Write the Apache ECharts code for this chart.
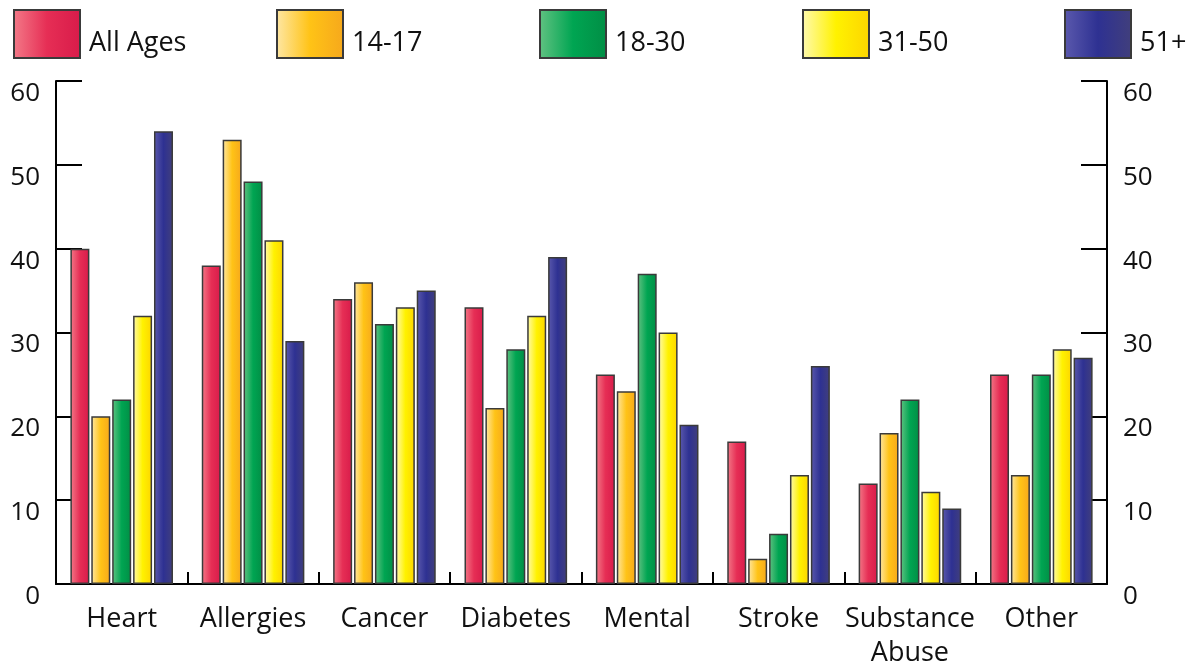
<!DOCTYPE html>
<html>
<head>
<meta charset="utf-8">
<script src="https://cdn.jsdelivr.net/npm/echarts@6/dist/echarts.min.js"></script>
<style>
  html, body { margin: 0; padding: 0; background: #ffffff; }
  #chart { width: 1199px; height: 667px; }
</style>
</head>
<body>
<div id="chart"></div>
<script>
// Condition categories along the x axis
const categories = ['Heart', 'Allergies', 'Cancer', 'Diabetes', 'Mental', 'Stroke', 'Substance\nAbuse', 'Other'];

// Age groups (one series each)
const groupNames = ['All Ages', '14-17', '18-30', '31-50', '51+'];

// Percent values per age group, in category order
const allAges = [40, 38, 34, 33, 25, 17, 12, 25];
const age14to17 = [20, 53, 36, 21, 23, 3, 18, 13];
const age18to30 = [22, 48, 31, 28, 37, 6, 22, 25];
const age31to50 = [32, 41, 33, 32, 30, 13, 11, 28];
const age51plus = [54, 29, 35, 39, 19, 26, 9, 27];

// Y axis tick values
const yTicks = [0, 10, 20, 30, 40, 50, 60];

const seriesValues = [allAges, age14to17, age18to30, age31to50, age51plus];

// Horizontal gradients: light left edge, saturated middle, deeper right edge
const gradientStops = [
  ['#f37a88', '#e62e55', '#d81b4a'],
  ['#fee7a6', '#ffc316', '#f6a81c'],
  ['#62c282', '#00a552', '#018e45'],
  ['#fffab0', '#fff200', '#fdd500'],
  ['#5b59ad', '#2e3192', '#413f7c']
];

function hGradient(c) {
  return {
    type: 'linear', x: 0, y: 0, x2: 1, y2: 0,
    colorStops: [
      { offset: 0, color: c[0] },
      { offset: 0.5, color: c[1] },
      { offset: 1, color: c[2] }
    ]
  };
}

const FONT = 'Open Sans';
const legendLefts = [13, 276, 539, 802, 1064];

const chart = echarts.init(document.getElementById('chart'), null, { renderer: 'canvas' });

const yAxisCommon = {
  type: 'value',
  min: yTicks[0],
  max: yTicks[yTicks.length - 1],
  interval: yTicks[1] - yTicks[0],
  splitLine: { show: false },
  axisLine: { show: true, lineStyle: { color: '#000', width: 2 } },
  axisTick: { show: true, inside: true, length: 26, lineStyle: { color: '#000', width: 2 } },
  axisLabel: {
    fontFamily: FONT, fontSize: 26, color: '#111',
    margin: 16, verticalAlign: 'top', lineHeight: 25
  }
};

chart.setOption({
  animation: false,
  legend: groupNames.map((name, i) => ({
    data: [name],
    left: legendLefts[i],
    top: 9,
    padding: 0,
    itemWidth: 66,
    itemHeight: 48,
    icon: 'rect',
    selectedMode: false,
    // a short spacer line above the name drops the text below the swatch centre
    formatter: '{s| }\n{t|{name}}',
    textStyle: {
      fontFamily: FONT, fontSize: 27, color: '#111',
      rich: {
        s: { fontSize: 10, lineHeight: 18 },
        t: { fontFamily: FONT, fontSize: 27, color: '#111', lineHeight: 30, padding: [0, 0, 0, 4] }
      }
    }
  })),
  grid: { left: 56, right: 92, top: 81, bottom: 83, containLabel: false, outerBoundsMode: 'none' },
  xAxis: {
    type: 'category',
    data: categories,
    axisLine: { show: true, lineStyle: { color: '#000', width: 2 } },
    axisTick: { show: true, inside: true, length: 12, alignWithLabel: false, lineStyle: { color: '#000', width: 2 } },
    axisLabel: {
      fontFamily: FONT, fontSize: 27, color: '#111',
      margin: 18, lineHeight: 34, interval: 0
    }
  },
  yAxis: [
    Object.assign({}, yAxisCommon, { position: 'left' }),
    Object.assign({}, yAxisCommon, { position: 'right' })
  ],
  series: groupNames.map((name, i) => ({
    name: name,
    type: 'bar',
    data: seriesValues[i],
    barWidth: 19,
    barGap: '10%',
    itemStyle: {
      color: hGradient(gradientStops[i]),
      borderColor: '#3a3a3a',
      borderWidth: 1.5
    }
  }))
});
</script>
</body>
</html>
